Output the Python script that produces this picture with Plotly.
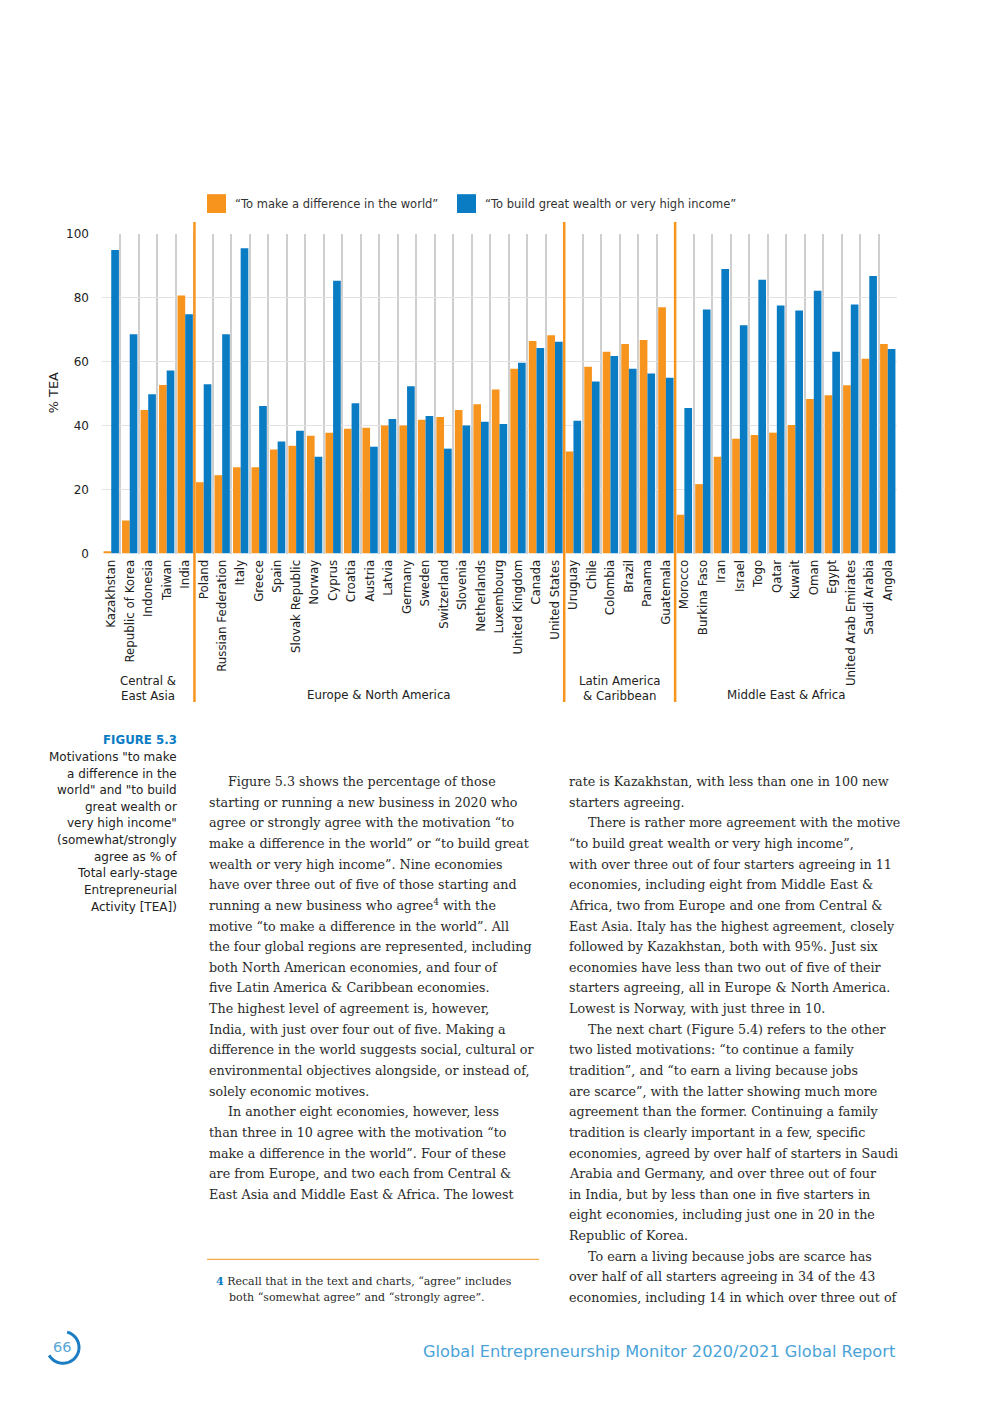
import math
import plotly.graph_objects as go

countries = ["Kazakhstan", "Republic of Korea", "Indonesia", "Taiwan", "India",
             "Poland", "Russian Federation", "Italy", "Greece", "Spain", "Slovak Republic",
             "Norway", "Cyprus", "Croatia", "Austria", "Latvia", "Germany", "Sweden",
             "Switzerland", "Slovenia", "Netherlands", "Luxembourg", "United Kingdom",
             "Canada", "United States",
             "Uruguay", "Chile", "Colombia", "Brazil", "Panama", "Guatemala",
             "Morocco", "Burkina Faso", "Iran", "Israel", "Togo", "Qatar", "Kuwait",
             "Oman", "Egypt", "United Arab Emirates", "Saudi Arabia", "Angola"]

difference = [0.7, 10.3, 44.9, 52.7, 80.7,
              22.3, 24.5, 27.0, 27.0, 32.5, 33.7, 36.8, 37.8, 39.0, 39.3, 40.0, 40.0,
              41.8, 42.7, 44.9, 46.7, 51.3, 57.8, 66.5, 68.3,
              31.9, 58.4, 63.1, 65.5, 66.8, 77.0,
              12.1, 21.7, 30.3, 35.9, 37.1, 37.8, 40.2, 48.3, 49.5, 52.6, 60.9, 65.5]

wealth = [94.9, 68.6, 49.8, 57.2, 74.8,
          52.9, 68.6, 95.5, 46.1, 35.0, 38.4, 30.3, 85.3, 47.0, 33.4, 42.1, 52.3,
          43.0, 32.8, 40.0, 41.2, 40.5, 59.7, 64.3, 66.2,
          41.5, 53.8, 61.8, 57.8, 56.3, 55.0,
          45.5, 76.3, 89.0, 71.4, 85.6, 77.6, 76.0, 82.2, 63.1, 77.9, 86.8, 64.0]

regions = ["Central &<br>East Asia", "Europe & North America",
           "Latin America<br>& Caribbean", "Middle East & Africa"]
region_sizes = [5, 20, 6, 12]

series_names = ["“To make a difference in the world”",
                "“To build great wealth or very high income”"]

ORANGE = "#F7941E"
BLUE = "#0A7CC4"
OFF = 8                      # default page margin of the html body
W, H = 992 - 2 * OFF, 1403 - 2 * OFF
SANS = "DejaVu Sans"
SERIF = "DejaVu Serif"


def px(x):
    return (x - OFF) / W


def py(y):
    return 1 - (y - OFF) / H


fig = go.Figure()
fig.add_trace(go.Bar(x=countries, y=difference, name=series_names[0],
                     marker=dict(color=ORANGE, line=dict(width=0))))
fig.add_trace(go.Bar(x=countries, y=wealth, name=series_names[1],
                     marker=dict(color=BLUE, line=dict(width=0))))

shapes = []
annotations = []

# region separators and labels
start = 0
for i, (reg, n) in enumerate(zip(regions, region_sizes)):
    center = start + (n - 1) / 2
    two = "<br>" in reg
    annotations.append(dict(x=center, xref="x", y=py(688 if two else 695), yref="paper",
                            text=reg, showarrow=False, xanchor="center", yanchor="middle",
                            font=dict(family=SANS, size=11.8, color="#222")))
    start += n
    if i < len(regions) - 1:
        shapes.append(dict(type="line", xref="x", yref="paper", x0=start - 0.5, x1=start - 0.5,
                           y0=py(217), y1=py(702), line=dict(color=ORANGE, width=2.5)))

# legend
for i, (nm, col, x0) in enumerate(zip(series_names, [ORANGE, BLUE], [207, 457])):
    shapes.append(dict(type="rect", xref="paper", yref="paper", x0=px(x0), x1=px(x0 + 19),
                       y0=py(208), y1=py(189), fillcolor=col, line=dict(width=0)))
    annotations.append(dict(x=px(x0 + 26), y=py(198.5), xref="paper", yref="paper",
                            text=nm, showarrow=False, xanchor="left", yanchor="middle",
                            font=dict(family=SANS, size=11.5, color="#333")))

# y-axis title
annotations.append(dict(x=px(53), y=py(390), xref="paper", yref="paper", text="% TEA",
                        textangle=-90, showarrow=False, xanchor="center", yanchor="middle",
                        font=dict(family=SANS, size=12.8, color="#222")))

# caption
annotations.append(dict(x=px(179), y=py(740), xref="paper", yref="paper",
                        text="<b>FIGURE 5.3</b>", showarrow=False, xanchor="right",
                        yanchor="middle", font=dict(family=SANS, size=11.8, color="#0A7CC4")))
caption = ["Motivations \"to make", "a difference in the", "world\" and \"to build",
           "great wealth or", "very high income\"", "(somewhat/strongly",
           "agree as % of", "Total early-stage", "Entrepreneurial", "Activity [TEA])"]
for i, line in enumerate(caption):
    annotations.append(dict(x=px(179), y=py(757.5 + 16.8 * i), xref="paper", yref="paper",
                            text=line, showarrow=False, xanchor="right", yanchor="middle",
                            font=dict(family=SANS, size=12, color="#222")))

IND = "\u2003\u2002"
left_col = [
    IND + "Figure 5.3 shows the percentage of those",
    "starting or running a new business in 2020 who",
    "agree or strongly agree with the motivation “to",
    "make a difference in the world” or “to build great",
    "wealth or very high income”. Nine economies",
    "have over three out of five of those starting and",
    "running a new business who agree<sup>4</sup> with the",
    "motive “to make a difference in the world”. All",
    "the four global regions are represented, including",
    "both North American economies, and four of",
    "five Latin America & Caribbean economies.",
    "The highest level of agreement is, however,",
    "India, with just over four out of five. Making a",
    "difference in the world suggests social, cultural or",
    "environmental objectives alongside, or instead of,",
    "solely economic motives.",
    IND + "In another eight economies, however, less",
    "than three in 10 agree with the motivation “to",
    "make a difference in the world”. Four of these",
    "are from Europe, and two each from Central &",
    "East Asia and Middle East & Africa. The lowest",
]
right_col = [
    "rate is Kazakhstan, with less than one in 100 new",
    "starters agreeing.",
    IND + "There is rather more agreement with the motive",
    "“to build great wealth or very high income”,",
    "with over three out of four starters agreeing in 11",
    "economies, including eight from Middle East &",
    "Africa, two from Europe and one from Central &",
    "East Asia. Italy has the highest agreement, closely",
    "followed by Kazakhstan, both with 95%. Just six",
    "economies have less than two out of five of their",
    "starters agreeing, all in Europe & North America.",
    "Lowest is Norway, with just three in 10.",
    IND + "The next chart (Figure 5.4) refers to the other",
    "two listed motivations: “to continue a family",
    "tradition”, and “to earn a living because jobs",
    "are scarce”, with the latter showing much more",
    "agreement than the former. Continuing a family",
    "tradition is clearly important in a few, specific",
    "economies, agreed by over half of starters in Saudi",
    "Arabia and Germany, and over three out of four",
    "in India, but by less than one in five starters in",
    "eight economies, including just one in 20 in the",
    "Republic of Korea.",
    IND + "To earn a living because jobs are scarce has",
    "over half of all starters agreeing in 34 of the 43",
    "economies, including 14 in which over three out of",
]
for col_x, col in [(207, left_col), (567, right_col)]:
    for i, line in enumerate(col):
        annotations.append(dict(x=px(col_x), y=py(782.5 + 20.84 * i), xref="paper", yref="paper",
                                text=line, showarrow=False, xanchor="left", yanchor="middle",
                                font=dict(family=SERIF, size=12.7, color="#2a2a2a")))

# footnote
shapes.append(dict(type="line", xref="paper", yref="paper", x0=px(207), x1=px(539),
                   y0=py(1265), y1=py(1265), line=dict(color=ORANGE, width=1)))
annotations.append(dict(x=px(214), y=py(1287), xref="paper", yref="paper",
                        text="<span style='color:#0A7CC4'><b>4</b></span> Recall that in the text and charts, “agree” includes",
                        showarrow=False, xanchor="left", yanchor="middle",
                        font=dict(family=SERIF, size=11, color="#2a2a2a")))
annotations.append(dict(x=px(227), y=py(1304), xref="paper", yref="paper",
                        text="both “somewhat agree” and “strongly agree”.",
                        showarrow=False, xanchor="left", yanchor="middle",
                        font=dict(family=SERIF, size=11, color="#2a2a2a")))

# page number with arc
annotations.append(dict(x=px(62), y=py(1354), xref="paper", yref="paper", text="66",
                        showarrow=False, xanchor="center", yanchor="middle",
                        font=dict(family=SANS, size=14.5, color="#5AA7D8")))
cx, cy, r = 63, 1354, 16
pts = []
for k in range(0, 41):
    a = math.radians(-75 + k * (225 / 40))
    pts.append((cx + r * math.cos(a), cy + r * math.sin(a)))
path = "M " + " L ".join("{:.5f},{:.5f}".format(px(x), py(y)) for x, y in pts)
shapes.append(dict(type="path", xref="paper", yref="paper", path=path,
                   line=dict(color="#1A7CC2", width=3)))

annotations.append(dict(x=px(897), y=py(1358), xref="paper", yref="paper",
                        text="Global Entrepreneurship Monitor 2020/2021 Global Report",
                        showarrow=False, xanchor="right", yanchor="middle",
                        font=dict(family=SANS, size=16.2, color="#4AA3D8")))

fig.update_layout(
    width=W, height=H,
    margin=dict(l=0, r=0, t=0, b=0, pad=0),
    paper_bgcolor="white", plot_bgcolor="white",
    barmode="group", bargap=0.17, bargroupgap=0,
    showlegend=False,
    shapes=shapes, annotations=annotations,
    xaxis=dict(domain=[px(102), px(897)], type="category", tickson="boundaries",
               showgrid=True, gridcolor="#CFCFCF", gridwidth=2,
               tickangle=-90, ticks="", showline=False, zeroline=False,
               tickfont=dict(family=SANS, size=11.8, color="#222"),
               ticklabelstandoff=3),
    yaxis=dict(domain=[py(552), py(229)], range=[0, 100], dtick=20,
               showgrid=True, gridcolor="#E2E2E2", gridwidth=1, zeroline=False,
               showline=False, ticks="",
               tickfont=dict(family=SANS, size=12, color="#222"),
               ticklabelstandoff=12),
)

fig.write_html("out.html", config={"displayModeBar": False})
